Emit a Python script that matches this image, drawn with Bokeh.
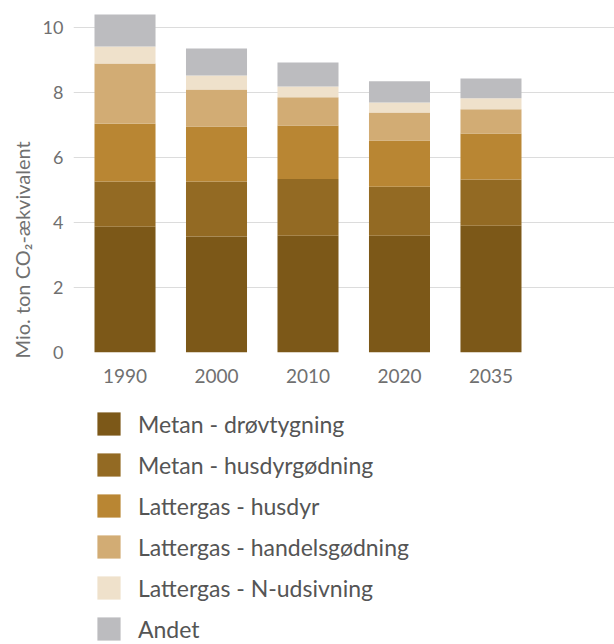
from bokeh.plotting import figure
from bokeh.layouts import column
from bokeh.models import (Range1d, FixedTicker, Legend, LegendItem, Title)
from bokeh.embed import file_html
from bokeh.resources import INLINE

years = ["1990", "2000", "2010", "2020", "2035"]
series = ["Metan - drøvtygning", "Metan - husdyrgødning", "Lattergas - husdyr",
          "Lattergas - handelsgødning", "Lattergas - N-udsivning", "Andet"]
metan_droevtygning = [3.87, 3.57, 3.59, 3.59, 3.90]
metan_husdyrgoedning = [1.39, 1.69, 1.75, 1.51, 1.42]
lattergas_husdyr = [1.78, 1.69, 1.64, 1.42, 1.42]
lattergas_handelsgoedning = [1.85, 1.14, 0.87, 0.86, 0.74]
lattergas_n_udsivning = [0.52, 0.43, 0.33, 0.31, 0.34]
andet = [0.99, 0.83, 0.74, 0.65, 0.61]
y_ticks = [0, 2, 4, 6, 8, 10]

colors = ["#7C5818", "#936A23", "#B98633", "#D2AC74", "#EFE1CB", "#BCBCBF"]
keys = ["s0", "s1", "s2", "s3", "s4", "s5"]

xpos = list(range(len(years)))
data = dict(x=xpos)
for k, vals in zip(keys, [metan_droevtygning, metan_husdyrgoedning, lattergas_husdyr,
                          lattergas_handelsgoedning, lattergas_n_udsivning, andet]):
    data[k] = vals

FONT = "Lato"
GRAY = "#707070"

p = figure(width=614, height=392, output_backend="svg", toolbar_location=None,
           x_range=Range1d(-0.563, 5.35), y_range=Range1d(0, 10.52),
           min_border_left=73, min_border_right=0, min_border_top=10,
           min_border_bottom=40)
p.outline_line_color = None
p.background_fill_color = "white"
p.border_fill_color = "white"

renderers = p.vbar_stack(keys, x="x", width=0.667, color=colors, line_color=None,
                         source=data)

p.xgrid.grid_line_color = None
p.ygrid.grid_line_color = "#dcdcdc"
p.ygrid.grid_line_width = 1.2
p.ygrid.ticker = FixedTicker(ticks=y_ticks)

p.yaxis.ticker = FixedTicker(ticks=y_ticks)
p.yaxis.axis_line_color = None
p.yaxis.major_tick_line_color = None
p.yaxis.minor_tick_line_color = None
p.yaxis.major_tick_out = 0
p.yaxis.major_tick_in = 0
p.yaxis.major_label_standoff = 10
p.yaxis.major_label_text_font = FONT
p.yaxis.major_label_text_font_size = "18px"
p.yaxis.major_label_text_color = GRAY

p.xaxis.ticker = FixedTicker(ticks=xpos)
p.xaxis.major_label_overrides = {i: y for i, y in zip(xpos, years)}
p.xaxis.axis_line_color = None
p.xaxis.major_tick_line_color = None
p.xaxis.minor_tick_line_color = None
p.xaxis.major_tick_out = 0
p.xaxis.major_tick_in = 0
p.xaxis.major_label_standoff = 16
p.xaxis.major_label_text_font = FONT
p.xaxis.major_label_text_font_size = "19px"
p.xaxis.major_label_text_color = GRAY

ytitle = Title(text="Mio. ton CO₂-ækvivalent", align="left", offset=-6,
               text_font=FONT, text_font_size="20px", text_font_style="normal",
               text_color=GRAY, standoff=11)
p.add_layout(ytitle, "left")

# legend in its own panel below the chart (hidden copies of the bars feed the swatches)
lf = figure(width=614, height=252, output_backend="svg", toolbar_location=None,
            x_range=Range1d(0, 1), y_range=Range1d(0, 1),
            min_border=0, x_axis_type=None, y_axis_type=None)
lf.outline_line_color = None
lf.xgrid.grid_line_color = None
lf.ygrid.grid_line_color = None
legend_rs = lf.vbar_stack(keys, x="x", width=0.667, color=colors, line_color=None,
                          source=data)
for r in legend_rs:
    r.visible = False
items = [LegendItem(label=s, renderers=[r]) for s, r in zip(series, legend_rs)]
legend = Legend(items=items, location=(21, 1), orientation="vertical",
                glyph_width=29, glyph_height=29, spacing=12, padding=0, margin=0,
                label_standoff=15, label_text_font=FONT, label_text_font_size="23px",
                label_text_color="#555555", label_height=29,
                inactive_fill_alpha=0, click_policy="none",
                background_fill_alpha=0, border_line_color=None)
lf.add_layout(legend, "center")

open("out.html", "w").write(file_html(column(p, lf), INLINE))
